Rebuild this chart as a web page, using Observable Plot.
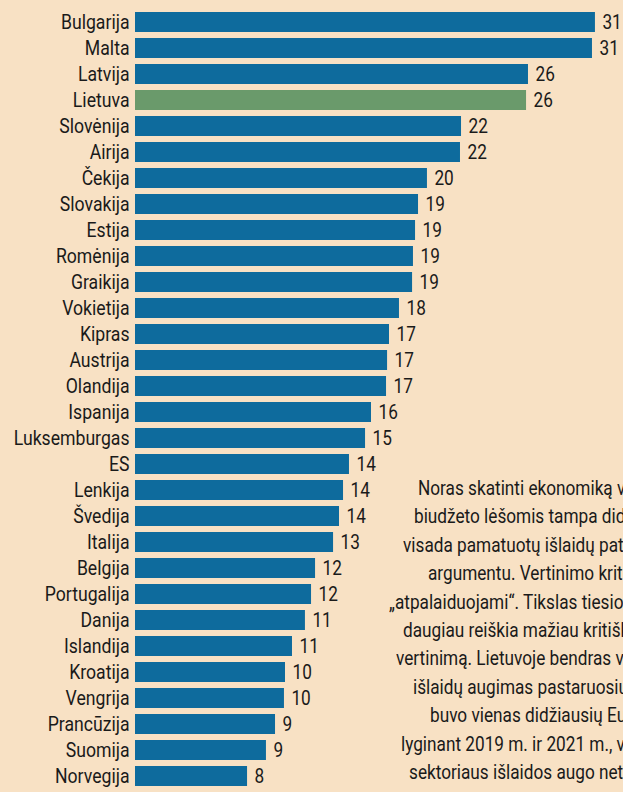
<!DOCTYPE html>
<html>
<head>
<meta charset="utf-8">
<script src="https://cdn.jsdelivr.net/npm/d3@7"></script>
<script src="https://cdn.jsdelivr.net/npm/@observablehq/plot@0.6"></script>
<style>
  html, body { margin: 0; padding: 0; background: #f8e1c4; overflow: hidden; width: 623px; height: 792px; }
  #wrap { position: relative; width: 623px; height: 792px; overflow: hidden; }
  #note { position: absolute; top: 0; left: 0; font-family: Roboto, sans-serif; font-size: 20px; color: #1a1a1a; }
  #note div { position: absolute; white-space: nowrap; line-height: 28.4px; transform: scaleX(0.86); transform-origin: 0 50%; }
</style>
</head>
<body>
<div id="wrap"><div id="chart"></div><div id="note"></div></div>
<script>
const countries = ["Bulgarija","Malta","Latvija","Lietuva","Slovėnija","Airija","Čekija","Slovakija","Estija","Romėnija","Graikija","Vokietija","Kipras","Austrija","Olandija","Ispanija","Luksemburgas","ES","Lenkija","Švedija","Italija","Belgija","Portugalija","Danija","Islandija","Kroatija","Vengrija","Prancūzija","Suomija","Norvegija"];
const values = [30.91,30.71,26.41,26.28,21.91,21.84,19.62,19.02,18.82,18.68,18.62,17.74,17.07,16.94,16.87,15.86,15.46,14.38,13.98,13.71,13.31,12.10,11.83,11.42,10.55,10.08,10.01,9.41,8.80,7.53];
const highlight = "Lietuva";
const noteLines = [
  "Noras skatinti ekonomiką valstybės",
  "biudžeto lėšomis tampa dideliu, bet ne",
  "visada pamatuotų išlaidų patvirtinimo",
  "argumentu. Vertinimo kriterijai",
  "„atpalaiduojami“. Tikslas tiesiog išleisti",
  "daugiau reiškia mažiau kritišką išlaidų",
  "vertinimą. Lietuvoje bendras valdžios",
  "išlaidų augimas pastaruosius metus",
  "buvo vienas didžiausių Europoje:",
  "lyginant 2019 m. ir 2021 m., valdžios",
  "sektoriaus išlaidos augo net"
];
const noteLeft = [418,414,403,428,389,403,396,413,430,401,409];

const data = countries.map((c, i) => ({country: c, value: values[i]}));
const blue = "#0e6b9d", green = "#6a9a6b";
const squeeze = 0.86;

const chart = Plot.plot({
  width: 623,
  height: 796,
  marginTop: 1.5,
  marginBottom: 0,
  marginLeft: 135,
  marginRight: 0,
  style: {background: "transparent", fontFamily: "Roboto, sans-serif", color: "#1a1a1a", overflow: "hidden"},
  x: {domain: [0, 33], range: [135, 135 + 14.88 * 33], axis: null},
  y: {domain: countries, padding: 0.22, label: null},
  marks: [
    Plot.barX(data, {y: "country", x: "value", fill: d => d.country === highlight ? green : blue}),
    Plot.text(data, {y: "country", x: "value", text: d => String(Math.round(d.value)), textAnchor: "start", dx: 7, fontSize: 20, fill: "#1a1a1a"}),
    Plot.axisY({tickSize: 0, tickPadding: 6, fontSize: 20.5, label: null, fill: "#1a1a1a"})
  ]
});
document.getElementById("chart").appendChild(chart);
// condense glyphs horizontally (Roboto as a stand-in for a condensed face)
d3.select(chart).selectAll("text").each(function() {
  const L = this.getComputedTextLength();
  if (L > 0) {
    this.setAttribute("textLength", (L * squeeze).toFixed(2));
    this.setAttribute("lengthAdjust", "spacingAndGlyphs");
  }
});

const note = document.getElementById("note");
noteLines.forEach((t, i) => {
  const d = document.createElement("div");
  d.textContent = t;
  d.style.left = noteLeft[i] + "px";
  d.style.top = (474 + i * 28.4) + "px";
  note.appendChild(d);
});
</script>
</body>
</html>
